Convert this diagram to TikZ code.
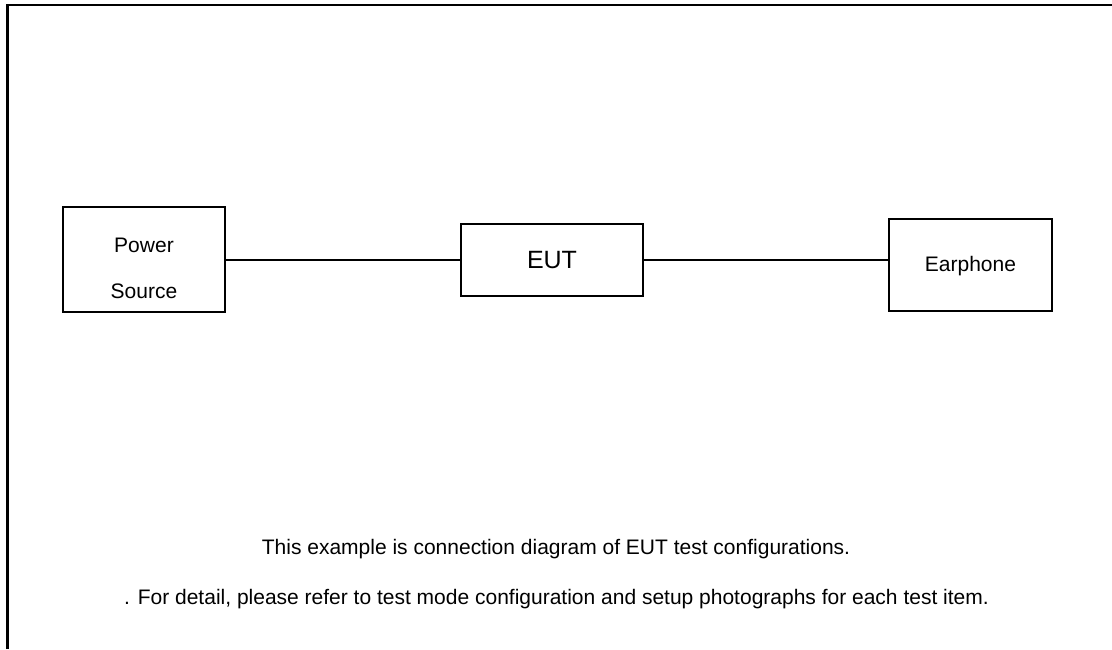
\documentclass[tikz,border=0pt]{standalone}
\usepackage{fontspec}
\setmainfont{Liberation Sans}
\usetikzlibrary{positioning}

\begin{document}
\begin{tikzpicture}[x=1pt,y=-1pt]

\tikzstyle{device}=[draw,rectangle,line width={1.2pt},inner sep={0pt}]
\tikzstyle{label}=[inner sep={0pt},font={\fontsize{21}{46}\selectfont},align={center}]
\tikzstyle{cable}=[line width={1.3pt}]
\tikzstyle{frame}=[line width={2.6pt}]

\useasboundingbox (0,0) rectangle (1112,649) ;

% frame

\coordinate (F1) at (7.5,649) ;
\coordinate (F2) at (7.5,5) ;
\coordinate (F3) at (1112,5) ;
\draw [frame] (F1) -- (F2) -- (F3) ;

% devices: boxes

\node at (144,259.5) [device,minimum width={162pt},minimum height={105pt}] (PS) {} ;
\node at (552,260) [device,minimum width={182pt},minimum height={72pt},font={\fontsize{25}{30}\selectfont}] (EUT) {EUT} ;
\node at (970.5,265) [device,minimum width={163pt},minimum height={92pt}] (EP) {} ;

\node at ([yshift={-8.5pt}] PS.center) [label] (PSL) {Power\\Source} ;
\node at ([yshift={-1pt}] EP.center) [label] (EPL) {Earphone} ;

% connections: cables

\draw [cable] (EUT.west) -- (EUT.west -| PS.east) ;
\draw [cable] (EUT.east) -- (EUT.east -| EP.west) ;

% notes

\node at (556,549) [label] (N1) {This example is connection diagram of EUT test configurations.} ;
\node at (556.5,599) [label] (N2) {. For detail, please refer to test mode configuration and setup photographs for each test item.} ;

\end{tikzpicture}
\end{document}
